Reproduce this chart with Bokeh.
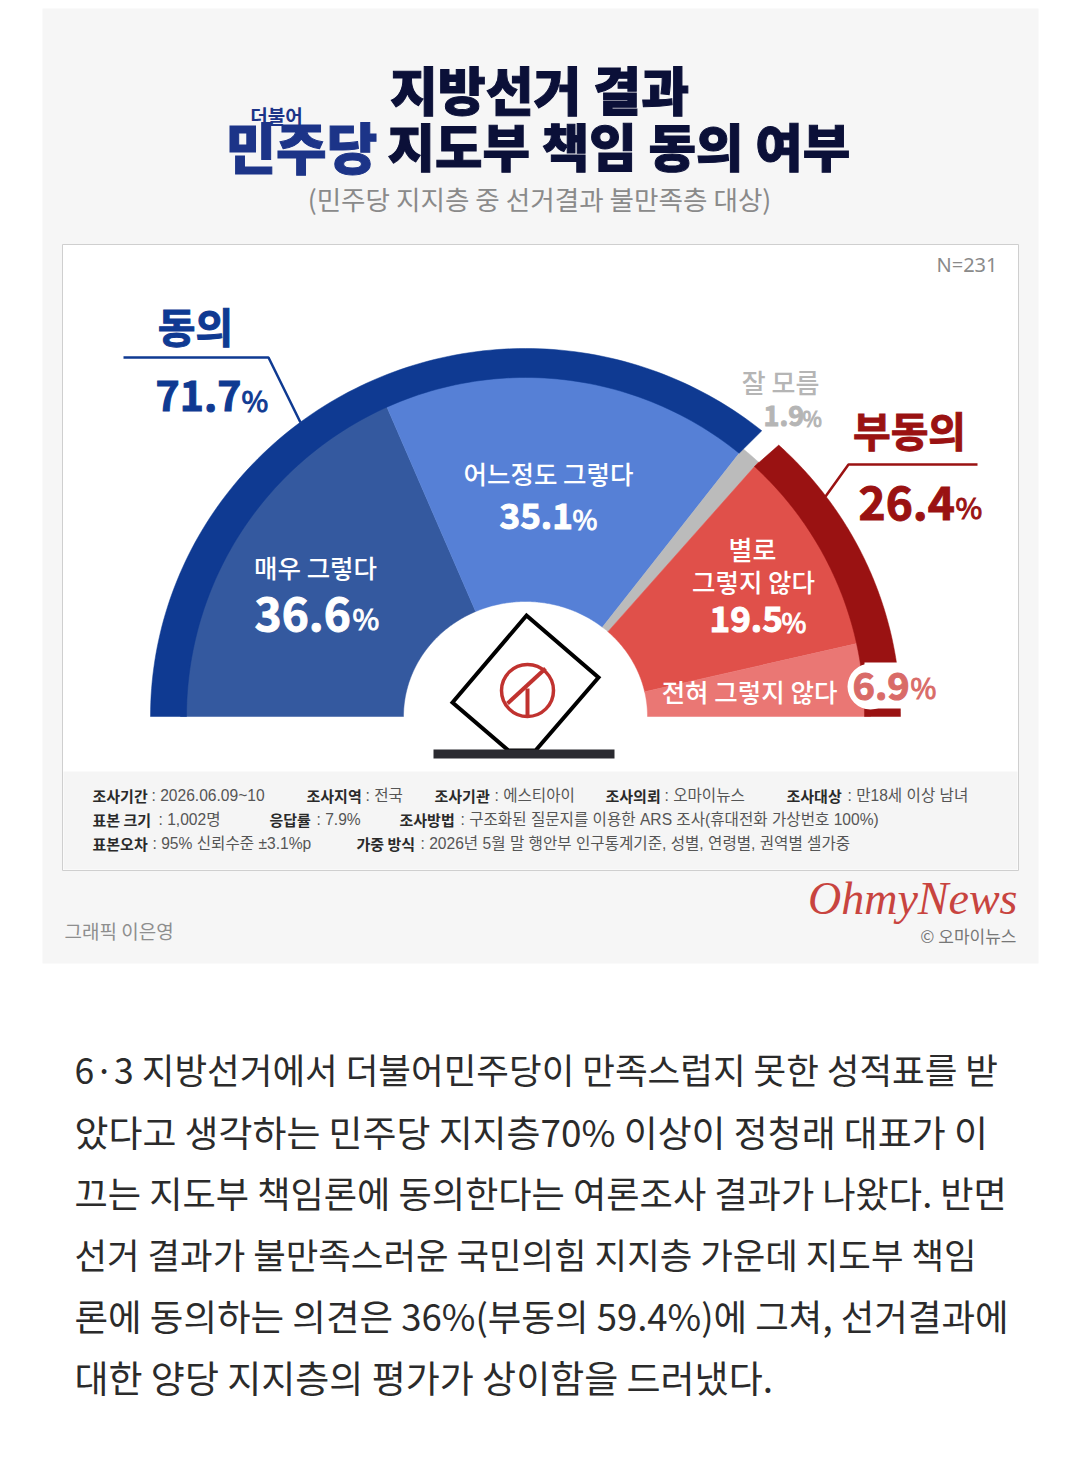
from bokeh.plotting import figure
from bokeh.embed import file_html
from bokeh.resources import INLINE
from bokeh.core.properties import value
from bokeh.models import Range1d
import numpy as np

# ---- data ----
segment_labels = ["매우 그렇다", "어느정도 그렇다", "잘 모름", "별로 그렇지 않다", "전혀 그렇지 않다"]
segment_values = [36.6, 35.1, 1.9, 19.5, 6.9]
group_labels = ["동의", "부동의"]
group_values = [71.7, 26.4]
N_LABEL = "N=231"
TITLE_1 = "지방선거 결과"
TITLE_2A = "민주당"
TITLE_2B = "지도부 책임 동의 여부"
TITLE_SMALL = "더불어"
SUBTITLE = "(민주당 지지층 중 선거결과 불만족층 대상)"
NOTE_HEADS = [["조사기간", "조사지역", "조사기관", "조사의뢰", "조사대상"],
              ["표본 크기", "응답률", "조사방법"],
              ["표본오차", "가중 방식"]]
NOTE_TEXTS = [[": 2026.06.09~10", ": 전국", ": 에스티아이", ": 오마이뉴스", ": 만18세 이상 남녀"],
              [": 1,002명", ": 7.9%", ": 구조화된 질문지를 이용한 ARS 조사(휴대전화 가상번호 100%)"],
              [": 95% 신뢰수준 ±3.1%p", ": 2026년 5월 말 행안부 인구통계기준, 성별, 연령별, 권역별 셀가중"]]
BODY = [
    "6·3 지방선거에서 더불어민주당이 만족스럽지 못한 성적표를 받",
    "았다고 생각하는 민주당 지지층70% 이상이 정청래 대표가 이",
    "끄는 지도부 책임론에 동의한다는 여론조사 결과가 나왔다. 반면",
    "선거 결과가 불만족스러운 국민의힘 지지층 가운데 지도부 책임",
    "론에 동의하는 의견은 36%(부동의 59.4%)에 그쳐, 선거결과에",
    "대한 양당 지지층의 평가가 상이함을 드러냈다.",
]

# ---- styles / layout ----
KR = value("Noto Sans CJK KR")
KRB = value("Noto Sans CJK KR Black")
KRM = value("Noto Sans CJK KR Medium")
NOTE_FONT = value("Liberation Sans, Noto Sans CJK KR")
CX, CY = 525.0, 716.0
NAVY, RED_D, INK = "#0f3a92", "#9a1212", "#0b1038"
SEG_COL = ["#34599f", "#5680d6", "#bbbbbb", "#e0504a", "#ea7774"]
NOTE_Y = [796, 820, 844]
NOTE_HEAD_X = [[92, 306, 434, 605, 786], [92, 269, 399], [92, 356]]
NOTE_TEXT_X = [[151, 365, 494, 664, 847], [158, 316, 460], [152, 420]]
BODY_Y = [1070, 1132, 1193, 1255, 1317, 1378]
BODY_SIZE = [35.5, 36.9, 36.2, 35.4, 36.5, 37]

p = figure(width=1064, height=1468, x_range=Range1d(0, 1064), y_range=Range1d(1468, 0),
           toolbar_location=None, output_backend="svg", min_border=0,
           background_fill_color="white", border_fill_color="white", outline_line_color=None)
p.axis.visible = False
p.grid.visible = False

def band(start_pct, end_pct, ri, ro, color):
    # angles run from the left end (0 %) clockwise over the top to the right end (100 %)
    t = np.radians(180 - np.linspace(start_pct, end_pct, 120) * 1.8)
    xs = np.r_[CX + ro[0] * np.cos(t), CX + ri[0] * np.cos(t[::-1])]
    ys = np.r_[CY - ro[1] * np.sin(t), CY - ri[1] * np.sin(t[::-1])]
    p.patch(xs, ys, fill_color=color, line_color=color, line_width=0.5)

def T(x, y, s, size, color, bold=False, align="left", outline=None, font=KR, style=None):
    kw = {}
    if outline:
        kw["text_outline_color"] = outline
    p.text([x], [y], text=[s], text_font=font, text_font_size=f"{size}px", text_color=color,
           text_font_style=style or ("bold" if bold else "normal"), text_align=align,
           text_baseline="middle", **kw)

# panels
p.quad(left=[42], right=[1038], top=[8], bottom=[963], fill_color="#f6f6f6", line_color=None)
p.quad(left=[62], right=[1018], top=[244], bottom=[870], fill_color="white", line_color="#cfcfcf", line_width=1)
p.quad(left=[63], right=[1017], top=[771], bottom=[869], fill_color="#f5f5f5", line_color=None)

# titles
T(539, 88, TITLE_1, 52, INK, False, "center", INK, font=KRB)
T(225, 144, TITLE_2A, 55, "#1c3488", False, "left", "#1c3488", font=KRB)
T(387, 144, TITLE_2B, 51.6, INK, False, "left", INK, font=KRB)
T(276, 115, TITLE_SMALL, 19, "#1c3488", True, "center")
T(539, 198, SUBTITLE, 26.6, "#8a8a8a", False, "center")
T(997, 264, N_LABEL, 20, "#8a8a8a", False, "right", font=value("Noto Sans"))

# inner segments
cum = np.r_[0, np.cumsum(segment_values)]
cum = cum / cum[-1] * 100
for i, c in enumerate(SEG_COL):
    band(cum[i], cum[i + 1], (122, 115), (345, 345), c)

# outer bands
band(0, group_values[0], (339, 339), (375, 368), NAVY)
band(100 - group_values[1], 100, (339, 339), (375, 368), RED_D)

# leaders
p.line([123, 268, 300], [357, 357, 422], line_color=NAVY, line_width=2.5)
p.line([977, 848, 825], [464, 464, 496], line_color=RED_D, line_width=2.5)

# ballot icon
p.patch([526, 598, 535, 508, 452], [615, 677, 750, 750, 702], fill_color="white", line_color="black", line_width=4, line_join="miter")
p.circle([527], [690], radius=26, fill_color=None, line_color="#c0322f", line_width=3.5)
p.line([545, 507], [668, 703], line_color="#c0322f", line_width=4)
p.line([527, 527], [688, 716], line_color="#c0322f", line_width=4)
p.quad(left=[433], right=[614], top=[749], bottom=[758], fill_color="#2a2a30", line_color=None)

# group labels
T(195, 324, group_labels[0], 41, NAVY, True, "center", NAVY)
T(155, 395, f"{group_values[0]}", 41, NAVY, True, "left", NAVY)
T(241, 398, "%", 29, NAVY, False, "left", NAVY)
T(909, 428, group_labels[1], 41, RED_D, True, "center", RED_D)
T(858, 502, f"{group_values[1]}", 46, RED_D, True, "left", RED_D)
T(955, 505, "%", 29, RED_D, False, "left", RED_D)

# don't know
T(780, 381, segment_labels[2], 26, "#b5b5b5", False, "center", font=KRM)
T(763, 415, f"{segment_values[2]}", 27, "#b5b5b5", True, "left", "#b5b5b5")
T(802, 417, "%", 21, "#b5b5b5", False, "left", "#b5b5b5")

# segment labels
T(315, 566, segment_labels[0], 25.5, "white", False, "center", font=KRM)
T(254, 613, f"{segment_values[0]}", 46, "white", True, "left", "white")
T(352, 616, "%", 29, "white", False, "left", "white")
T(548, 472, segment_labels[1], 25.5, "white", False, "center", font=KRM)
T(499, 515, f"{segment_values[1]}", 35, "white", True, "left", "white")
T(572, 518, "%", 27, "white", False, "left", "white")
T(752, 548, "별로", 26, "white", False, "center", font=KRM)
T(753, 580, "그렇지 않다", 25.5, "white", False, "center", font=KRM)
T(709, 618, f"{segment_values[3]}", 35, "white", True, "left", "white")
T(781, 621, "%", 27, "white", False, "left", "white")
T(749, 690, "전혀 그렇지 않다", 25.5, "white", False, "center", font=KRM)

# 6.9 %
p.quad(left=[864], right=[905], top=[662], bottom=[708], fill_color="white", line_color=None)
p.ellipse([870], [686], width=46, height=46, fill_color="white", line_color=None)
T(852, 685, f"{segment_values[4]}", 38, "#d96b68", True, "left", "#d96b68")
T(910, 686, "%", 28, "#d96b68", False, "left", "#d96b68")

# note rows
for y, heads, texts, hx, tx in zip(NOTE_Y, NOTE_HEADS, NOTE_TEXTS, NOTE_HEAD_X, NOTE_TEXT_X):
    for h, s, x1, x2 in zip(heads, texts, hx, tx):
        T(x1, y - 1, h, 15, "#2a2a2a", True)
        T(x2, y - 1, s, 15.6, "#555555", font=NOTE_FONT)

T(64, 930, "그래픽 이은영", 19, "#8e8e8e")
T(1017, 898, "OhmyNews", 46, "#c8443f", False, "right", font=value("Liberation Serif"), style="italic")
T(1016, 935, "© 오마이뉴스", 17, "#777777", False, "right")

# body text
for y, line, s in zip(BODY_Y, BODY, BODY_SIZE):
    T(74, y - 2, line, s, "#2b2b2b")

open("out.html", "w").write(file_html(p, INLINE))
